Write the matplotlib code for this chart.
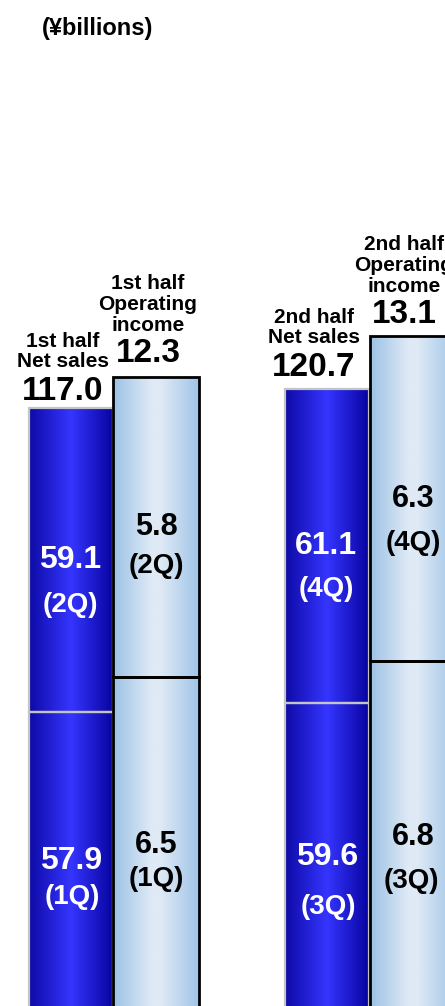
import numpy as np
import matplotlib.pyplot as plt
from matplotlib.colors import LinearSegmentedColormap

# ---------------------------------------------------------------------------
# data (¥billions)
# ---------------------------------------------------------------------------
halves      = ['1st half', '2nd half']
quarters_lo = ['1Q', '3Q']                 # lower segment of each half
quarters_hi = ['2Q', '4Q']                 # upper segment of each half
sales_lo    = [57.9, 59.6]
sales_hi    = [59.1, 61.1]
income_lo   = [6.5, 6.8]
income_hi   = [5.8, 6.3]

# ---------------------------------------------------------------------------
# layout (pixels, figure is 445 x 1006)
# ---------------------------------------------------------------------------
W, H = 445, 1006
sales_left  = [29, 285]
sales_width = 83.5
inc_left    = [113, 370]
inc_width   = 86
# two independent value scales sharing one baseline just below the frame
sales_ylim  = (0.78, 0.78 + H / 5.144)
inc_ylim    = (0.135, 0.135 + H / 51.7)

head_gap    = {'sales': [8, 13], 'inc': [15, 13]}     # gap bar top -> total
head_dx     = {'sales': [-8, -13], 'inc': [-8, -9]}
q_lab_dy    = {'sales': [(36, 45), (50, 43)], 'inc': [(34, 39), (44, 44)]}

FONT = 'Liberation Sans'

blue_cmap  = LinearSegmentedColormap.from_list(
    'blue', [(0, '#0E0AA6'), (0.5, '#3535FF'), (1, '#0804A0')], N=256)
light_cmap = LinearSegmentedColormap.from_list(
    'light', [(0, '#9CC2E5'), (0.45, '#DFEAF6'), (0.55, '#DFEAF6'),
              (1, '#A0C5E7')], N=256)


def gradient_bar(ax, x, h, w, bottom, cmap, edge, lw):
    bar = ax.bar(x, h, w, bottom=bottom, align='edge',
                 facecolor='none', edgecolor=edge, linewidth=lw, zorder=3)[0]
    grad = cmap(np.linspace(0, 1, 256))[None, :, :3]
    img = ax.imshow(grad, extent=[x, x + w, bottom, bottom + h],
                    aspect='auto', interpolation='bilinear', zorder=2)
    img.set_clip_path(bar)
    return bar


def put(ax, x, y, s, dx, dy, size, color='black', va='baseline'):
    # dy > 0 moves the text down, dy < 0 moves it up (pixels)
    ax.annotate(s, (x, y), xytext=(dx, -dy), textcoords='offset pixels',
                ha='center', va=va, fontsize=size, fontweight='bold',
                color=color, family=FONT, zorder=5)


fig = plt.figure(figsize=(W / 100, H / 100), dpi=100)
ax = fig.add_axes([0, 0, 1, 1])
ax2 = ax.twinx()

for i in range(2):
    # net sales column
    xs, ws = sales_left[i], sales_width
    gradient_bar(ax, xs, sales_lo[i], ws, 0, blue_cmap, '#C4C4C4', 1.6)
    gradient_bar(ax, xs, sales_hi[i], ws, sales_lo[i], blue_cmap, '#C4C4C4', 1.6)
    # operating income column
    xi, wi = inc_left[i], inc_width
    gradient_bar(ax2, xi, income_lo[i], wi, 0, light_cmap, 'black', 2.0)
    gradient_bar(ax2, xi, income_hi[i], wi, income_lo[i], light_cmap, 'black', 2.0)

    # values inside segments
    cs, ci = xs + ws / 2, xi + wi / 2
    lo_dy, hi_dy = q_lab_dy['sales'][i]
    put(ax, cs, sales_lo[i] / 2, f'{sales_lo[i]:.1f}', 0, 0, 23, 'white', 'center')
    put(ax, cs, sales_lo[i] / 2, f'({quarters_lo[i]})', 2, lo_dy, 20, 'white', 'center')
    mid = sales_lo[i] + sales_hi[i] / 2
    put(ax, cs, mid, f'{sales_hi[i]:.1f}', -1, 0, 23, 'white', 'center')
    put(ax, cs, mid, f'({quarters_hi[i]})', 0, hi_dy, 20, 'white', 'center')

    lo_dy, hi_dy = q_lab_dy['inc'][i]
    put(ax2, ci, income_lo[i] / 2, f'{income_lo[i]:.1f}', 0, 0, 22, 'black', 'center')
    put(ax2, ci, income_lo[i] / 2, f'({quarters_lo[i]})', -2 * i, lo_dy, 20, 'black', 'center')
    mid = income_lo[i] + income_hi[i] / 2
    put(ax2, ci, mid, f'{income_hi[i]:.1f}', 0, 0, 22, 'black', 'center')
    put(ax2, ci, mid, f'({quarters_hi[i]})', 0, hi_dy, 20, 'black', 'center')

    # totals and headings above each column
    tot = sales_lo[i] + sales_hi[i]
    g, dx = head_gap['sales'][i], head_dx['sales'][i]
    put(ax, cs, tot, f'{tot:.1f}', dx, -g, 24)
    put(ax, cs, tot, 'Net sales', dx, -(g + 33), 15)
    put(ax, cs, tot, halves[i], dx, -(g + 53), 15)

    tot = income_lo[i] + income_hi[i]
    g, dx = head_gap['inc'][i], head_dx['inc'][i]
    put(ax2, ci, tot, f'{tot:.1f}', dx, -g, 24)
    put(ax2, ci, tot, 'income', dx, -(g + 31), 15)
    put(ax2, ci, tot, 'Operating', dx, -(g + 52), 15)
    put(ax2, ci, tot, halves[i], dx, -(g + 73), 15)

ax.set_xlim(0, W)
ax.set_ylim(*sales_ylim)
ax2.set_ylim(*inc_ylim)
ax.axis('off')
ax2.axis('off')

fig.text(98 / W, 1 - 29 / H, '(¥billions)', ha='center', va='center',
         fontsize=17, fontweight='bold', family=FONT)

fig.savefig('out.png', dpi=100)
